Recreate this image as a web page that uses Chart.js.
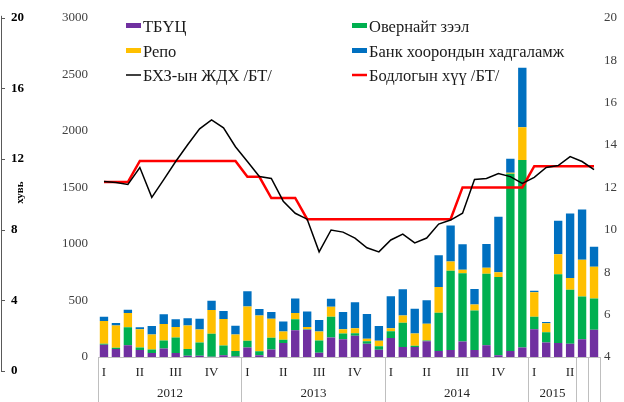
<!DOCTYPE html>
<html>
<head>
<meta charset="utf-8">
<script src="https://cdn.jsdelivr.net/npm/chart.js@4.4.0/dist/chart.umd.min.js"></script>
<style>
    body { margin: 0; background: #fff; }
    #wrap { width: 624px; height: 402px; }
</style>
</head>
<body>
<div id="wrap"><canvas id="chart_money" width="624" height="402"></canvas></div>
<script>
// months on the x axis
const months = [
    '2012-01','2012-02','2012-03','2012-04','2012-05','2012-06','2012-07','2012-08','2012-09','2012-10','2012-11','2012-12',
    '2013-01','2013-02','2013-03','2013-04','2013-05','2013-06','2013-07','2013-08','2013-09','2013-10','2013-11','2013-12',
    '2014-01','2014-02','2014-03','2014-04','2014-05','2014-06','2014-07','2014-08','2014-09','2014-10','2014-11','2014-12',
    '2015-01','2015-02','2015-03','2015-04','2015-05','2015-06'
];
const quarterLabels = [
    'I','','','II','','','III','','','IV','','',
    'I','','','II','','','III','','','IV','','',
    'I','','','II','','','III','','','IV','','',
    'I','','','II','',''
];
const yearLabels = ['2012', '2013', '2014', '2015', '', ''];
const yearSpans = [12, 12, 12, 4, 1, 1];

// bars, тэрбум төгрөг
const tbuc = [108,70,105,61,35,76,35,12,12,3,15,4, 85,15,67,123,237,240,38,173,158,187,117,64,
              167,88,88,140,53,61,137,61,105,15,53,85, 246,129,123,117,158,240];
const overnight = [9,12,158,24,32,70,138,58,117,202,87,50, 58,35,103,29,96,5,108,184,50,24,23,32,
                   61,216,11,5,339,702,603,351,632,693,1567,1658, 111,90,608,477,377,278];
const repo = [202,196,126,161,132,146,93,208,114,210,234,146, 304,316,169,73,56,20,79,87,38,43,21,47,
              26,62,109,149,228,82,32,53,52,41,10,289, 216,79,178,105,325,280];
const deposit = [38,23,29,17,76,85,67,64,96,82,70,76, 135,58,59,88,129,138,102,71,152,231,219,132,
                 284,233,219,208,281,319,225,137,211,491,123,527, 12,12,296,570,444,176];

// lines, percent
const interbankRate = [12.28,12.23,12.14,12.94,11.53,12.37,13.22,14.01,14.76,15.18,14.81,13.92,
                       13.22,12.51,12.42,11.35,10.78,10.5,8.96,9.99,9.89,9.61,9.15,8.96,
                       9.52,9.80,9.38,9.61,10.27,10.46,10.78,12.37,12.42,12.65,12.51,12.19,
                       12.47,12.94,13.03,13.45,13.22,12.84];
const policyRate = [12.25,12.25,12.25,13.25,13.25,13.25,13.25,13.25,13.25,13.25,13.25,13.25,
                    12.5,12.5,11.5,11.5,11.5,10.5,10.5,10.5,10.5,10.5,10.5,10.5,
                    10.5,10.5,10.5,10.5,10.5,10.5,12,12,12,12,12,12,
                    13,13,13,13,13,13];

const pctTicks = [0, 4, 8, 12, 16, 20];

const serif = "'Liberation Serif', 'Times New Roman', serif";

// legend in two columns, drawn from the datasets
const legendTwoCols = {
    id: 'legendTwoCols',
    afterDraw: function(chart) {
        const ctx = chart.ctx;
        const cols = [126, 352];
        const rows = [32, 57, 81];
        ctx.save();
        ctx.font = '16.5px ' + serif;
        ctx.textBaseline = 'alphabetic';
        ctx.textAlign = 'left';
        chart.data.datasets.forEach(function(ds, i) {
            const x = cols[i % 2];
            const y = rows[Math.floor(i / 2)];
            if (ds.type === 'line') {
                ctx.strokeStyle = ds.borderColor;
                ctx.lineWidth = ds.borderWidth;
                ctx.beginPath();
                ctx.moveTo(x, y - 6);
                ctx.lineTo(x + 15, y - 6);
                ctx.stroke();
            } else {
                ctx.fillStyle = ds.backgroundColor;
                ctx.fillRect(x, y - 9, 15, 5);
            }
            ctx.fillStyle = '#1a1a1a';
            ctx.fillText(ds.label, x + 17, y);
        });
        ctx.restore();
    }
};

// far left percent axis (goes below the plot down to 0)
const percentAxis = {
    id: 'percentAxis',
    afterDraw: function(chart) {
        const ctx = chart.ctx;
        const s = chart.scales.yPct;
        ctx.save();
        ctx.strokeStyle = '#595959';
        ctx.lineWidth = 1;
        ctx.beginPath();
        ctx.moveTo(1.5, s.getPixelForValue(20) - 2);
        ctx.lineTo(1.5, s.getPixelForValue(0) + 1);
        pctTicks.forEach(function(v) {
            const y = Math.round(s.getPixelForValue(v)) + 0.5;
            ctx.moveTo(1, y);
            ctx.lineTo(5, y);
        });
        ctx.stroke();
        ctx.fillStyle = '#000';
        ctx.font = 'bold 13px ' + serif;
        ctx.textAlign = 'left';
        ctx.textBaseline = 'middle';
        pctTicks.forEach(function(v) {
            ctx.fillText(String(v), 11, s.getPixelForValue(v));
        });
        ctx.translate(20, s.getPixelForValue(10.1));
        ctx.rotate(-Math.PI / 2);
        ctx.font = 'bold 11px ' + serif;
        ctx.textAlign = 'center';
        ctx.fillText('хувь', 0, 0);
        ctx.restore();
    }
};

// two level category axis: quarters and years
const groupAxis = {
    id: 'groupAxis',
    afterDraw: function(chart) {
        const ctx = chart.ctx;
        const xs = chart.scales.x;
        const area = chart.chartArea;
        const half = (xs.getPixelForValue(1) - xs.getPixelForValue(0)) / 2;
        ctx.save();
        ctx.strokeStyle = '#bfbfbf';
        ctx.lineWidth = 1;
        ctx.beginPath();
        ctx.moveTo(area.left, area.bottom + 0.5);
        ctx.lineTo(area.right, area.bottom + 0.5);
        let idx = 0;
        const edges = [Math.round(xs.getPixelForValue(0) - half) + 0.5];
        yearSpans.forEach(function(n) {
            idx += n;
            edges.push(Math.round(xs.getPixelForValue(idx - 1) + half) + 0.5);
        });
        edges.forEach(function(ex) {
            ctx.moveTo(ex, area.bottom);
            ctx.lineTo(ex, chart.height);
        });
        ctx.stroke();

        ctx.fillStyle = '#262626';
        ctx.font = '13px ' + serif;
        ctx.textAlign = 'center';
        ctx.textBaseline = 'middle';
        quarterLabels.forEach(function(q, i) {
            if (q) ctx.fillText(q, xs.getPixelForValue(i), area.bottom + 16);
        });
        yearLabels.forEach(function(yl, i) {
            if (yl) ctx.fillText(yl, (edges[i] + edges[i + 1]) / 2, area.bottom + 37);
        });
        ctx.restore();
    }
};

const chartMoney = new Chart(document.getElementById('chart_money'), {
    data: {
        labels: months,
        datasets: [
            { type: 'bar', label: 'ТБҮЦ', data: tbuc, backgroundColor: '#7030A0', yAxisID: 'y', order: 1 },
            { type: 'bar', label: 'Овернайт зээл', data: overnight, backgroundColor: '#00B050', yAxisID: 'y', order: 1 },
            { type: 'bar', label: 'Репо', data: repo, backgroundColor: '#FFC000', yAxisID: 'y', order: 1 },
            { type: 'bar', label: 'Банк хоорондын хадгаламж', data: deposit, backgroundColor: '#0070C0', yAxisID: 'y', order: 1 },
            { type: 'line', label: 'БХЗ-ын ЖДХ /БТ/', data: interbankRate, borderColor: '#000000', borderWidth: 1.5,
              pointRadius: 0, tension: 0, fill: false, yAxisID: 'y2', order: 0 },
            { type: 'line', label: 'Бодлогын хүү /БТ/', data: policyRate, borderColor: '#FF0000', borderWidth: 2.5,
              pointRadius: 0, tension: 0, fill: false, yAxisID: 'y2', order: 0 }
        ]
    },
    options: {
        responsive: false,
        animation: false,
        devicePixelRatio: 1,
        layout: { padding: { top: 15, bottom: 45, left: 0, right: 0 } },
        datasets: { bar: { categoryPercentage: 1, barPercentage: 0.7, borderWidth: 0 } },
        plugins: { legend: { display: false }, tooltip: { enabled: false } },
        scales: {
            x: { display: false, stacked: true },
            y: {
                position: 'left', stacked: true, weight: 0,
                min: 0, max: 3000,
                grid: { display: false, drawTicks: false },
                border: { display: false },
                ticks: {
                    stepSize: 500, padding: 10, color: '#404040', font: { family: serif, size: 13 },
                    callback: function(value) { return String(value); }
                },
                afterFit: function(scale) { scale.width = 43; }
            },
            yPct: {
                position: 'left', weight: 1,
                min: 0.79, max: 20,
                grid: { display: false, drawTicks: false },
                border: { display: false },
                ticks: { display: false },
                afterFit: function(scale) { scale.width = 55; }
            },
            y2: {
                position: 'right',
                min: 4, max: 20,
                grid: { display: false, drawTicks: false },
                border: { display: false },
                ticks: {
                    stepSize: 2, padding: 4, color: '#404040', font: { family: serif, size: 13 },
                    callback: function(value) { return String(value); }
                },
                afterFit: function(scale) { scale.width = 24; }
            }
        }
    },
    plugins: [legendTwoCols, percentAxis, groupAxis]
});
</script>
</body>
</html>
